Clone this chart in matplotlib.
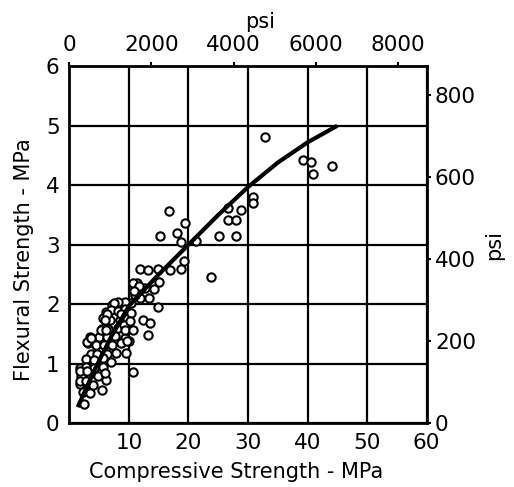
import numpy as np
import matplotlib
matplotlib.use('Agg')
import matplotlib.pyplot as plt

# datos (MPa)
comp_pts = [32.9, 39.2, 40.6, 41.0, 44.1,
            30.9, 30.9, 26.7, 28.8, 26.6, 27.9, 25.1, 27.9, 23.8,
            16.7, 19.5, 15.3, 18.0, 18.7, 21.2, 19.3, 18.7, 16.9,
            11.8, 13.2, 14.8, 15.0, 11.3, 12.7, 11.9, 14.2, 13.4, 11.9, 11.1,
            10.3, 9.4, 8.1, 7.2, 14.8, 12.4, 13.5, 13.2, 10.6, 5.4, 6.2,
            10.6, 11.7, 10.8, 7.5,
            6.2, 7.0, 8.2, 9.3, 5.7, 6.8, 8.5, 9.6, 5.4, 6.5, 8.2, 9.1,
            3.5, 4.9, 6.3, 7.7, 9.4, 3.2, 4.4, 5.8, 7.2, 8.6, 10.0,
            3.6, 4.7, 6.4, 7.8, 9.5, 2.8, 4.2, 5.6, 7.0,
            1.7, 2.8, 4.2, 5.6, 2.0, 3.4, 4.8, 5.9,
            1.7, 2.9, 4.0, 2.3, 3.5, 2.4,
            6.4, 5.9, 5.3, 6.2, 2.9, 3.7, 1.8, 2.9, 1.7, 2.8,
            8.7, 10.4, 10.1, 9.3, 10.7, 9.7]
flex_pts = [4.81, 4.43, 4.39, 4.19, 4.32,
            3.80, 3.70, 3.61, 3.58, 3.42, 3.42, 3.15, 3.14, 2.45,
            3.57, 3.37, 3.14, 3.20, 3.05, 3.06, 2.73, 2.60, 2.58,
            2.60, 2.58, 2.60, 2.37, 2.35, 2.28, 2.25, 2.25, 2.11, 2.11, 2.16,
            2.02, 2.04, 2.04, 1.99, 1.95, 1.74, 1.69, 1.48, 0.86, 0.55, 0.73,
            2.36, 2.31, 2.22, 2.02,
            1.87, 1.90, 1.88, 1.92, 1.76, 1.73, 1.74, 1.77, 1.59, 1.59, 1.60, 1.65,
            1.45, 1.45, 1.45, 1.46, 1.43, 1.34, 1.31, 1.31, 1.31, 1.35, 1.38,
            1.17, 1.17, 1.17, 1.18, 1.18, 1.08, 1.06, 1.09, 1.03,
            0.93, 0.94, 0.92, 0.95, 0.80, 0.83, 0.80, 0.84,
            0.66, 0.66, 0.64, 0.52, 0.50, 0.32,
            1.84, 1.73, 1.56, 1.56, 1.36, 1.44, 0.88, 0.88, 0.71, 0.71,
            1.84, 1.85, 1.71, 1.56, 1.56, 1.39]

# curva de ajuste (trazada a mano en el original)
curve_x = [1.4, 4.0, 7.0, 10.0, 15.0, 20.0, 25.0, 30.0, 35.0, 40.0, 45.0]
curve_y = [0.27, 0.85, 1.45, 1.97, 2.5, 3.0, 3.5, 3.97, 4.38, 4.72, 5.0]

x_ticks = [10, 20, 30, 40, 50, 60]
y_ticks = [0, 1, 2, 3, 4, 5, 6]
psi_x_ticks = [0, 2000, 4000, 6000, 8000]
psi_y_ticks = [0, 200, 400, 600, 800]
PSI = 145.038

plt.rcParams['font.family'] = ['DejaVu Sans']

fig = plt.figure(figsize=(5.14, 4.87), dpi=100)
ax = fig.add_axes([0.135, 0.131, 0.695, 0.733])

ax.plot(comp_pts, flex_pts, 'o', mfc='white', mec='black', ms=6, mew=1.5, zorder=3)
ax.plot(curve_x, curve_y, color='black', lw=3, solid_capstyle='butt', zorder=4)

ax.set_xlim(0, 60)
ax.set_ylim(0, 6)
ax.set_xticks(x_ticks)
ax.set_yticks(y_ticks)
# rejilla
ax.grid(True, color='black', lw=1.6)
ax.set_axisbelow(True)
for s in ax.spines.values():
    s.set_linewidth(2)
ax.tick_params(length=0, labelsize=15.5, pad=7)
ax.set_xlabel('Compressive Strength - MPa', fontsize=15)
ax.set_ylabel('Flexural Strength - MPa', fontsize=15)
ax.xaxis.set_label_coords(0.466, -0.11)
ax.yaxis.set_label_coords(-0.1, 0.457)

# ejes secundarios en psi
top = ax.secondary_xaxis('top', functions=(lambda v: v * PSI, lambda v: v / PSI))
top.set_xticks(psi_x_ticks)
top.tick_params(length=3, width=1.5, labelsize=15.5, pad=5)
top.set_xlabel('psi', fontsize=15, labelpad=5)
top.xaxis.label.set_x(0.534)

right = ax.secondary_yaxis('right', functions=(lambda v: v * PSI, lambda v: v / PSI))
right.set_yticks(psi_y_ticks)
right.tick_params(length=3, width=1.5, labelsize=15.5, pad=3)
right.set_ylabel('psi', fontsize=15, labelpad=6)

fig.savefig('out.png', dpi=100)
